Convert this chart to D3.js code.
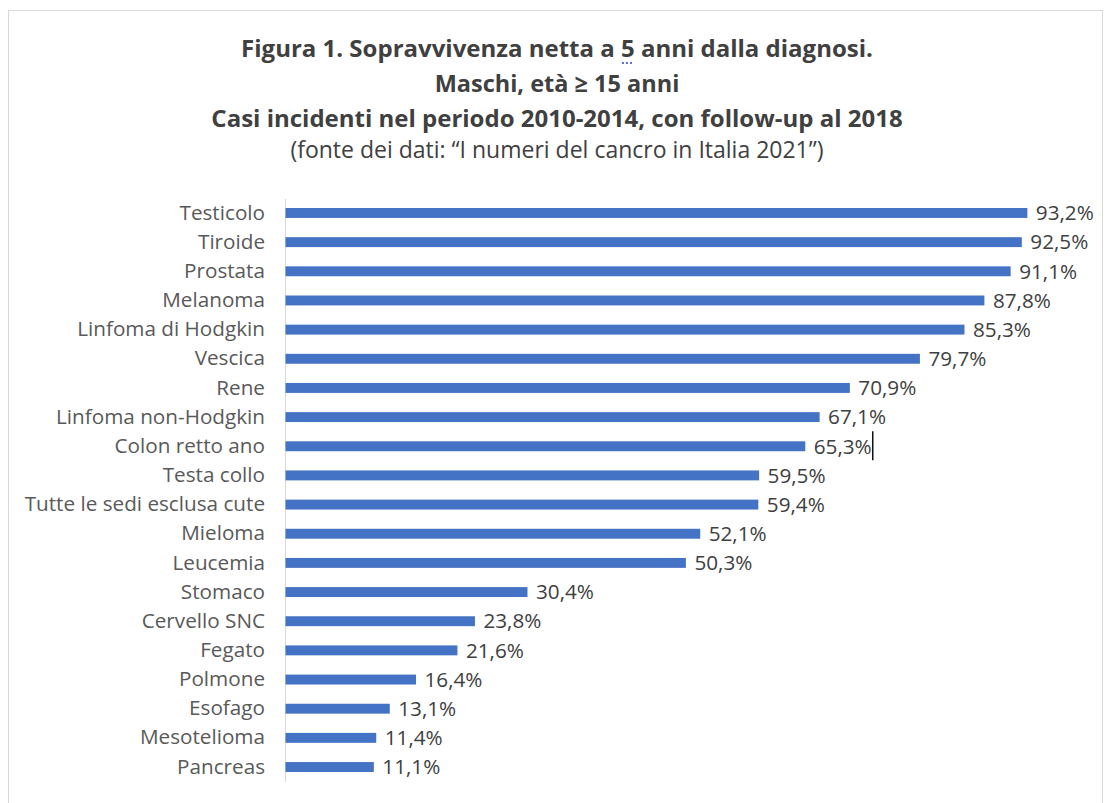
<!DOCTYPE html>
<html>
<head>
<meta charset="utf-8">
<script src="https://cdn.jsdelivr.net/npm/d3@7"></script>
<style>
  html, body { margin: 0; padding: 0; background: #fff; }
  svg { display: block; font-family: "Open Sans", Lato, sans-serif; }
</style>
</head>
<body>
<svg id="chart" width="1108" height="803"></svg>
<script>
// Tumour sites, ordered from highest to lowest survival
const sites = [
  "Testicolo", "Tiroide", "Prostata", "Melanoma", "Linfoma di Hodgkin",
  "Vescica", "Rene", "Linfoma non-Hodgkin", "Colon retto ano", "Testa collo",
  "Tutte le sedi esclusa cute", "Mieloma", "Leucemia", "Stomaco", "Cervello SNC",
  "Fegato", "Polmone", "Esofago", "Mesotelioma", "Pancreas"
];
// Net 5-year survival (%)
const survival = [
  93.2, 92.5, 91.1, 87.8, 85.3,
  79.7, 70.9, 67.1, 65.3, 59.5,
  59.4, 52.1, 50.3, 30.4, 23.8,
  21.6, 16.4, 13.1, 11.4, 11.1
];
const titleLines = [
  "Figura 1. Sopravvivenza netta a 5 anni dalla diagnosi.",
  "Maschi, età ≥ 15 anni",
  "Casi incidenti nel periodo 2010-2014, con follow-up al 2018"
];
const sourceLine = "(fonte dei dati: “I numeri del cancro in Italia 2021”)";

const svg = d3.select("#chart");

// chart frame
svg.append("rect")
  .attr("x", 8.5).attr("y", 10.5)
  .attr("width", 1094).attr("height", 800)
  .attr("fill", "#fff").attr("stroke", "#d9d9d9").attr("stroke-width", 1);

// titles
const cx = 557;
const tBase = [57, 92, 127];
const titleNodes = titleLines.map((t, i) =>
  svg.append("text")
    .attr("x", cx).attr("y", tBase[i])
    .attr("text-anchor", "middle")
    .attr("font-size", i === 1 ? 23.5 : 24).attr("font-weight", 700)
    .attr("fill", "#404040")
    .text(t));
svg.append("text")
  .attr("x", cx).attr("y", 158)
  .attr("text-anchor", "middle")
  .attr("font-size", 23)
  .attr("fill", "#404040")
  .text(sourceLine);

// dotted proofing underline beneath the "5" of the first title line
{
  const node = titleNodes[0].node();
  const idx = titleLines[0].indexOf("5");
  const start = node.getStartPositionOfChar(idx);
  const end = node.getEndPositionOfChar(idx);
  svg.append("line")
    .attr("x1", start.x + 1).attr("x2", end.x - 1)
    .attr("y1", tBase[0] + 6).attr("y2", tBase[0] + 6)
    .attr("stroke", "#5b6fd0").attr("stroke-width", 2)
    .attr("stroke-dasharray", "2,2");
}

// scales
const x = d3.scaleLinear().domain([0, 100]).range([285, 1081]);
const y = d3.scaleBand().domain(sites).range([198.4, 781.6]).paddingInner(0.66).paddingOuter(0.33);

// category axis
const yAxis = d3.axisLeft(y).tickSize(0).tickPadding(20);
const gAxis = svg.append("g").attr("transform", `translate(${x(0)},0)`).call(yAxis);
gAxis.select(".domain").attr("stroke", "#d9d9d9");
gAxis.selectAll("text")
  .attr("font-family", "'Open Sans', Lato, sans-serif")
  .attr("font-size", 20.7).attr("fill", "#595959");

// bars
const data = sites.map((s, i) => ({ site: s, v: survival[i] }));
svg.append("g").selectAll("rect").data(data).join("rect")
  .attr("x", x(0) + 0.5)
  .attr("y", d => y(d.site))
  .attr("width", d => x(d.v) - x(0))
  .attr("height", y.bandwidth())
  .attr("fill", "#4472c4");

// value labels
const fmt = v => v.toFixed(1).replace(".", ",") + "%";
const labels = svg.append("g").selectAll("text").data(data).join("text")
  .attr("x", d => x(d.v) + 9)
  .attr("y", d => y(d.site) + y.bandwidth() / 2)
  .attr("dy", "0.35em")
  .attr("font-size", 20.7).attr("fill", "#404040")
  .text(d => fmt(d.v));

// text caret left after the "Colon retto ano" label
labels.filter(d => d.site === "Colon retto ano").each(function (d) {
  const xe = x(d.v) + 9 + this.getComputedTextLength() + 1;
  const yc = y(d.site) + y.bandwidth() / 2;
  svg.append("line")
    .attr("x1", xe).attr("x2", xe)
    .attr("y1", yc - 15).attr("y2", yc + 14)
    .attr("stroke", "#111").attr("stroke-width", 1.5);
});
</script>
</body>
</html>
